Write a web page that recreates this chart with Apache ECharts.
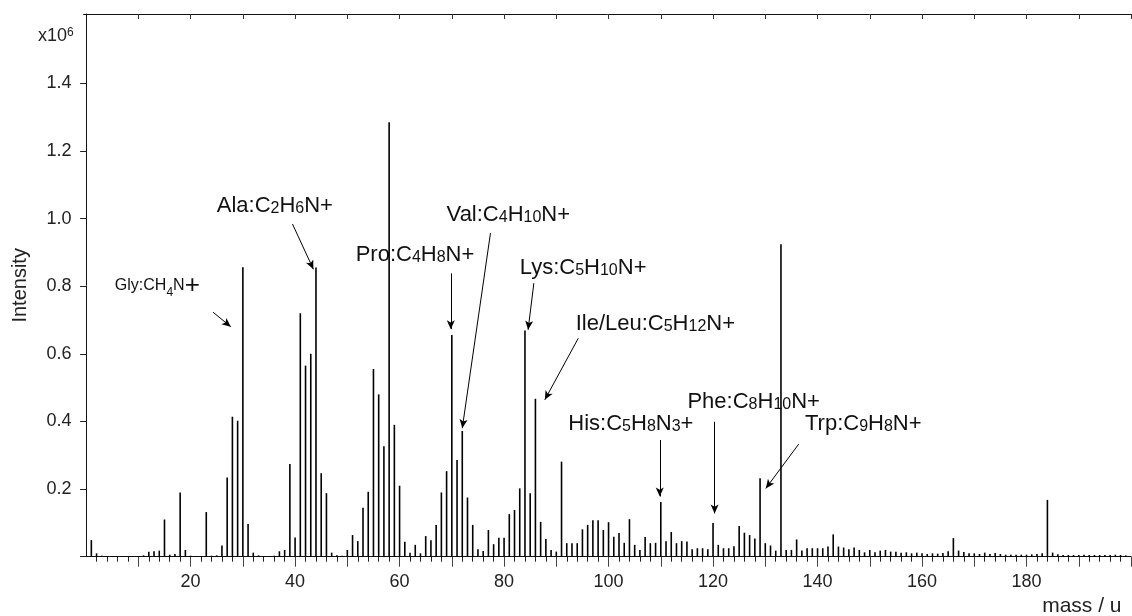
<!DOCTYPE html>
<html>
<head>
<meta charset="utf-8">
<script src="https://cdn.jsdelivr.net/npm/echarts@6/dist/echarts.min.js"></script>
<style>
html, body { margin: 0; padding: 0; background: #fff; }
#main { width: 1132px; height: 616px; }
</style>
</head>
<body>
<div id="main"></div>
<script>
// mass numbers (u) and intensities (x10^6)
const masses = [
    1, 2, 3, 4, 5, 6, 7, 8, 9, 10,
    11, 12, 13, 14, 15, 16, 17, 18, 19, 20,
    21, 22, 23, 24, 25, 26, 27, 28, 29, 30,
    31, 32, 33, 34, 35, 36, 37, 38, 39, 40,
    41, 42, 43, 44, 45, 46, 47, 48, 49, 50,
    51, 52, 53, 54, 55, 56, 57, 58, 59, 60,
    61, 62, 63, 64, 65, 66, 67, 68, 69, 70,
    71, 72, 73, 74, 75, 76, 77, 78, 79, 80,
    81, 82, 83, 84, 85, 86, 87, 88, 89, 90,
    91, 92, 93, 94, 95, 96, 97, 98, 99, 100,
    101, 102, 103, 104, 105, 106, 107, 108, 109, 110,
    111, 112, 113, 114, 115, 116, 117, 118, 119, 120,
    121, 122, 123, 124, 125, 126, 127, 128, 129, 130,
    131, 132, 133, 134, 135, 136, 137, 138, 139, 140,
    141, 142, 143, 144, 145, 146, 147, 148, 149, 150,
    151, 152, 153, 154, 155, 156, 157, 158, 159, 160,
    161, 162, 163, 164, 165, 166, 167, 168, 169, 170,
    171, 172, 173, 174, 175, 176, 177, 178, 179, 180,
    181, 182, 183, 184, 185, 186, 187, 188, 189, 190,
    191, 192, 193, 194, 195, 196, 197, 198, 199
];
const intensity = [
    0.049, 0.010, 0.003, 0.002, 0.002, 0.002, 0.002, 0.002, 0.002, 0.002,
    0.004, 0.015, 0.016, 0.018, 0.110, 0.006, 0.008, 0.190, 0.020, 0.003,
    0.002, 0.002, 0.132, 0.003, 0.004, 0.033, 0.234, 0.414, 0.402, 0.856,
    0.097, 0.012, 0.004, 0.002, 0.002, 0.003, 0.016, 0.020, 0.274, 0.057,
    0.720, 0.565, 0.600, 0.855, 0.247, 0.188, 0.012, 0.004, 0.003, 0.020,
    0.064, 0.046, 0.145, 0.192, 0.555, 0.480, 0.327, 1.285, 0.390, 0.210,
    0.044, 0.012, 0.035, 0.010, 0.061, 0.049, 0.094, 0.190, 0.253, 0.656,
    0.286, 0.372, 0.175, 0.094, 0.022, 0.017, 0.079, 0.037, 0.056, 0.056,
    0.126, 0.138, 0.202, 0.669, 0.188, 0.467, 0.103, 0.052, 0.020, 0.015,
    0.281, 0.040, 0.040, 0.040, 0.081, 0.094, 0.108, 0.108, 0.079, 0.102,
    0.059, 0.070, 0.041, 0.111, 0.035, 0.020, 0.058, 0.040, 0.041, 0.162,
    0.046, 0.073, 0.040, 0.046, 0.045, 0.022, 0.025, 0.025, 0.022, 0.100,
    0.035, 0.025, 0.025, 0.031, 0.091, 0.071, 0.064, 0.054, 0.232, 0.040,
    0.033, 0.018, 0.924, 0.020, 0.020, 0.051, 0.018, 0.025, 0.025, 0.025,
    0.025, 0.030, 0.066, 0.030, 0.027, 0.022, 0.027, 0.020, 0.013, 0.020,
    0.013, 0.018, 0.020, 0.015, 0.015, 0.012, 0.013, 0.010, 0.012, 0.010,
    0.008, 0.010, 0.009, 0.011, 0.016, 0.055, 0.018, 0.014, 0.010, 0.010,
    0.008, 0.012, 0.008, 0.011, 0.008, 0.006, 0.006, 0.006, 0.006, 0.006,
    0.007, 0.008, 0.010, 0.168, 0.012, 0.007, 0.005, 0.005, 0.005, 0.005,
    0.006, 0.005, 0.005, 0.005, 0.005, 0.005, 0.006, 0.005, 0.004
];

// axis ticks and labels
const xLabelValues = [20, 40, 60, 80, 100, 120, 140, 160, 180];
const xMidTicks = [10, 20, 30, 40, 50, 60, 70, 80, 90, 100, 110, 120, 130, 140, 150, 160, 170, 180, 190, 200];
const xMinorTicks = [2, 4, 6, 8, 12, 14, 16, 18, 22, 24, 26, 28, 32, 34, 36, 38, 42, 44, 46, 48,
    52, 54, 56, 58, 62, 64, 66, 68, 72, 74, 76, 78, 82, 84, 86, 88, 92, 94, 96, 98,
    102, 104, 106, 108, 112, 114, 116, 118, 122, 124, 126, 128, 132, 134, 136, 138,
    142, 144, 146, 148, 152, 154, 156, 158, 162, 164, 166, 168, 172, 174, 176, 178,
    182, 184, 186, 188, 192, 194, 196, 198];
const yTicks = [0, 0.2, 0.4, 0.6, 0.8, 1.0, 1.2, 1.4];
const yLabelValues = [0.2, 0.4, 0.6, 0.8, 1.0, 1.2, 1.4];

// peak annotations: text, text anchor (left, middle), arrow tail, arrow head (mass, intensity)
const annoText = ['Gly:CH4N+', 'Ala:C2H6N+', 'Pro:C4H8N+', 'Val:C4H10N+', 'Lys:C5H10N+',
    'Ile/Leu:C5H12N+', 'His:C5H8N3+', 'Phe:C8H10N+', 'Trp:C9H8N+'];
const annoAt = [[5.5, 0.801], [25.0, 1.038], [51.6, 0.893], [69.0, 1.011], [83.0, 0.854],
    [93.7, 0.688], [92.3, 0.393], [115.1, 0.458], [137.6, 0.393]];
const arrowFrom = [[24.3, 0.723], [39.5, 0.984], [69.8, 0.838], [77.4, 0.957], [85.7, 0.809],
    [94.2, 0.646], [109.8, 0.345], [120.3, 0.399], [136.4, 0.333]];
const arrowTo = [[27.7, 0.680], [43.5, 0.850], [69.8, 0.673], [72.0, 0.380], [84.6, 0.671],
    [87.8, 0.464], [109.8, 0.178], [120.3, 0.128], [130.1, 0.202]];

const FONT = 'Liberation Sans, Arial, sans-serif';

function chemRich(str) {
    if (str.indexOf('Gly') === 0) {
        return '{g|Gly:CH}{gs|4}{g|N}{gp|+}';
    }
    return '{m|' + str.replace(/(\d+)/g, '}{s|$1}{m|') + '}';
}

var chartDom = document.getElementById('main');
var myChart = echarts.init(chartDom);

const peakData = masses.map(function (m, i) { return [m, intensity[i]]; });

const arrowLines = arrowFrom.map(function (p, i) {
    return [{ coord: p }, { coord: arrowTo[i] }];
});

var option = {
    animation: false,
    backgroundColor: '#fff',
    textStyle: { fontFamily: FONT },
    grid: {
        left: 83.5,
        right: 1,
        top: 14,
        bottom: 59.3,
        outerBoundsMode: 'none'
    },
    xAxis: [
        {
            type: 'value',
            min: -0.5,
            max: 200,
            position: 'bottom',
            axisLine: { onZero: false, lineStyle: { color: '#111', width: 1 } },
            axisTick: { show: true, customValues: xMidTicks, length: 10, lineStyle: { color: '#444' } },
            axisLabel: {
                customValues: xLabelValues,
                fontSize: 18,
                margin: 16,
                color: '#222',
                fontFamily: FONT
            },
            splitLine: { show: false }
        },
        {
            type: 'value',
            min: -0.5,
            max: 200,
            position: 'bottom',
            axisLine: { show: false, onZero: false },
            axisTick: { show: true, customValues: xMinorTicks, length: 5, lineStyle: { color: '#222' } },
            axisLabel: { show: false },
            splitLine: { show: false }
        },
        {
            type: 'value',
            min: -0.5,
            max: 200,
            position: 'top',
            axisLine: { show: true, onZero: false, lineStyle: { color: '#111', width: 1 } },
            axisTick: { show: true, inside: true, customValues: xMidTicks, length: 5, lineStyle: { color: '#333' } },
            axisLabel: { show: false },
            splitLine: { show: false }
        }
    ],
    yAxis: {
        type: 'value',
        min: 0,
        max: 1.605,
        name: 'Intensity',
        nameLocation: 'middle',
        nameGap: 53,
        nameTextStyle: { fontSize: 20, color: '#222', fontFamily: FONT },
        axisLine: { show: true, lineStyle: { color: '#111', width: 1 } },
        axisTick: { show: true, customValues: yTicks, length: 6, lineStyle: { color: '#222' } },
        axisLabel: {
            customValues: yLabelValues,
            fontSize: 18,
            margin: 12,
            color: '#222',
            fontFamily: FONT,
            formatter: function (v) { return v.toFixed(1); }
        },
        splitLine: { show: false }
    },
    series: [
        {
            type: 'bar',
            xAxisIndex: 0,
            yAxisIndex: 0,
            barWidth: 1.6,
            itemStyle: { color: '#000' },
            silent: true,
            data: peakData,
            markLine: {
                silent: true,
                symbol: ['none', 'arrow'],
                symbolSize: [6, 9],
                label: { show: false },
                lineStyle: { color: '#000', width: 1, type: 'solid' },
                emphasis: { disabled: true },
                data: arrowLines
            }
        }
    ]
};

myChart.setOption(option);

// annotation texts placed at their data coordinates
const graphics = annoText.map(function (t, i) {
    var p = myChart.convertToPixel({ xAxisIndex: 0, yAxisIndex: 0 }, annoAt[i]);
    return {
        type: 'text',
        x: p[0],
        y: p[1],
        style: {
            text: chemRich(t),
            align: 'left',
            verticalAlign: 'middle',
            fill: '#111',
            rich: {
                m: { fontSize: 22, fontFamily: FONT, fill: '#111', verticalAlign: 'bottom' },
                s: { fontSize: 16, fontFamily: FONT, fill: '#111', verticalAlign: 'bottom' },
                g: { fontSize: 16, fontFamily: FONT, fill: '#111' },
                gs: { fontSize: 12, fontFamily: FONT, fill: '#111', verticalAlign: 'bottom' },
                gp: { fontSize: 26, fontFamily: FONT, fill: '#111' }
            }
        }
    };
});

graphics.push({
    type: 'text',
    x: 38,
    y: 36,
    style: {
        text: '{a|x10}{b|6}',
        align: 'left',
        verticalAlign: 'middle',
        rich: {
            a: { fontSize: 18, fontFamily: FONT, fill: '#222' },
            b: { fontSize: 12, fontFamily: FONT, fill: '#222', verticalAlign: 'top' }
        }
    }
});

graphics.push({
    type: 'text',
    x: 1121.5,
    y: 606,
    style: {
        text: 'mass / u',
        align: 'right',
        verticalAlign: 'middle',
        fontSize: 21,
        fontFamily: FONT,
        fill: '#222'
    }
});

myChart.setOption({ graphic: graphics });
</script>
</body>
</html>
